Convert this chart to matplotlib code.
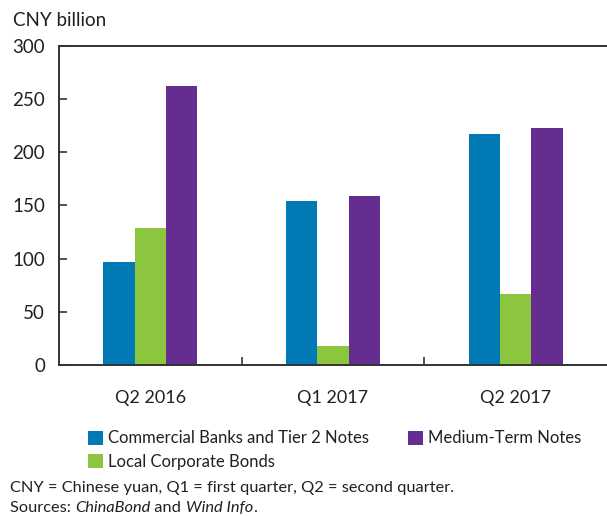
import matplotlib
matplotlib.use("Agg")
import matplotlib.pyplot as plt
import numpy as np
from matplotlib.patches import Patch

# Data (CNY billion)
quarters = ["Q2 2016", "Q1 2017", "Q2 2017"]
banks_tier2 = [97, 154, 217]
local_corp = [129, 18, 67]
medium_term = [262, 159, 223]

series_names = ["Commercial Banks and Tier 2 Notes", "Local Corporate Bonds", "Medium-Term Notes"]
colors = ["#0079B5", "#8CC63F", "#662D91"]

plt.rcParams['font.family'] = ['Lato', 'DejaVu Sans']
axis_col = "#333333"
text_col = "#231f20"

fig = plt.figure(figsize=(6.07, 5.16), dpi=100)
ax = fig.add_axes([59/607, 1-365/516, 1-59/607, (365-46)/516])

x = np.arange(len(quarters))
w = 0.172
for i, vals in enumerate([banks_tier2, local_corp, medium_term]):
    ax.bar(x + (i-1)*w, vals, width=w, color=colors[i], linewidth=0)

ax.set_xlim(-0.5, 2.5)
ax.set_ylim(0, 300)
ax.set_yticks([0, 50, 100, 150, 200, 250, 300])

# labels at group centres, small tick marks at group boundaries
ax.set_xticks(x)
ax.set_xticklabels(quarters)
ax.set_xticks([0.5, 1.5], minor=True)
ax.tick_params(axis='x', which='major', length=0, pad=18, labelsize=13, labelcolor=text_col)
ax.tick_params(axis='x', which='minor', direction='in', length=6, width=1.2, color=axis_col)
ax.tick_params(axis='y', direction='in', length=6, width=1.2, color=axis_col,
               labelsize=13.5, labelcolor=text_col, pad=10)

for s in ['left', 'top', 'bottom']:
    ax.spines[s].set_color(axis_col)
    ax.spines[s].set_linewidth(1.4)
ax.spines['right'].set_visible(False)

fig.text(13/607, 1-20/516, "CNY billion", fontsize=13.5, color=text_col, va='center', ha='left')

handles = [Patch(facecolor=c, edgecolor='none') for c in colors]
fig.legend(handles, series_names, ncol=2, loc='upper left', bbox_to_anchor=(80/607, 1-422/516),
           frameon=False, fontsize=12, handlelength=0.9, handleheight=0.9, handletextpad=0.3,
           columnspacing=2.3, labelspacing=0.45, borderpad=0, labelcolor=text_col)

fig.text(10/607, 1-488/516, "CNY = Chinese yuan, Q1 = first quarter, Q2 = second quarter.",
         fontsize=11.8, color=text_col, va='center')

# sources line with italic parts, placed piece by piece
pieces = [("Sources: ", "normal"), ("ChinaBond", "italic"), (" and ", "normal"),
          ("Wind Info", "italic"), (".", "normal")]
renderer = fig.canvas.get_renderer()
xpos = 10
for txt, style in pieces:
    t = fig.text(xpos/607, 1-508/516, txt, fontsize=11.8, color=text_col, va='center', style=style)
    xpos += t.get_window_extent(renderer).width

fig.savefig("out.png", dpi=100)
